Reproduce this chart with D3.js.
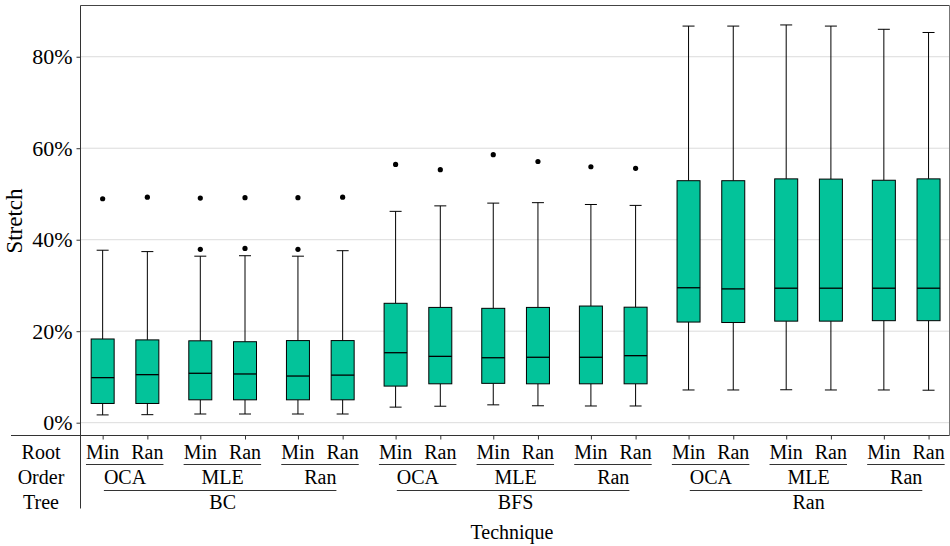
<!DOCTYPE html>
<html><head><meta charset="utf-8">
<script src="https://cdn.jsdelivr.net/npm/d3@7/dist/d3.min.js"></script>
<style>
body{margin:0;background:#fff;}
svg text{font-family:"Liberation Serif","DejaVu Serif",serif !important;fill:#000;}
</style></head>
<body><svg id="c" width="950" height="546" style="font-family:'Liberation Serif',serif"></svg>
<script>
// ---- data ----
const trees  = ["BC", "BFS", "Ran"];
const orders = ["OCA", "MLE", "Ran"];
const roots  = ["Min", "Ran"];
const whiskerLow  = [1.7, 1.75, 1.9, 1.9, 1.9, 1.9,   3.4, 3.6, 3.9, 3.7, 3.65, 3.65,   7.15, 7.15, 7.2, 7.15, 7.15, 7.1];
const q1          = [4.2, 4.2, 5.0, 5.0, 5.0, 5.0,     8.0, 8.5, 8.6, 8.5, 8.5, 8.5,      22.0, 21.9, 22.2, 22.2, 22.3, 22.3];
const median      = [9.85, 10.5, 10.8, 10.65, 10.2, 10.4, 15.3, 14.5, 14.2, 14.3, 14.3, 14.65, 29.5, 29.25, 29.4, 29.4, 29.4, 29.4];
const q3          = [18.3, 18.1, 17.9, 17.7, 17.95, 17.95, 26.1, 25.2, 25.0, 25.2, 25.5, 25.25, 52.9, 52.9, 53.3, 53.25, 53.0, 53.3];
const whiskerHigh = [37.7, 37.4, 36.4, 36.5, 36.4, 37.6, 46.2, 47.4, 48.0, 48.1, 47.7, 47.5, 86.7, 86.7, 86.95, 86.7, 86.0, 85.3];
const outliers    = [[48.95], [49.3], [49.1, 37.9], [49.2, 38.1], [49.2, 37.9], [49.3],
                     [56.45], [55.3], [58.6], [57.1], [55.95], [55.6],
                     [], [], [], [], [], []];
const yTicks = [0, 20, 40, 60, 80];
const rowLabels = ["Root", "Order", "Tree"];

// ---- build ----
const FONT = '"Liberation Serif", serif';
const boxes = [];
trees.forEach((t, ti) => orders.forEach((o, oi) => roots.forEach((r, ri) => {
  const i = ti * 6 + oi * 2 + ri;
  boxes.push({tree: t, order: o, root: r, group: t + "|" + o,
    lo: whiskerLow[i], q1: q1[i], med: median[i], q3: q3[i], hi: whiskerHigh[i], out: outliers[i]});
})));
const groups = [];
trees.forEach(t => orders.forEach(o => groups.push(t + "|" + o)));

const L = 80.5, R = 949.5, T = 5.5, B = 435.5;
const svg = d3.select("#c");
const y = d3.scaleLinear().domain([-2.8, 91.2]).range([B, T]);
const x0 = d3.scalePoint().domain(groups).range([125, 906.2]);
const x1 = d3.scalePoint().domain(roots).range([-22.35, 22.35]);
const bx = d => x0(d.group) + x1(d.root);
const boxW = 23, capW = 12;

// grid
svg.append("g").selectAll("line").data(yTicks).join("line")
  .attr("x1", L).attr("x2", R).attr("y1", d => y(d)).attr("y2", d => y(d))
  .attr("stroke", "#dcdcdc").attr("stroke-width", 1);

// y axis
const yAxis = d3.axisLeft(y).tickValues(yTicks).tickSize(4).tickPadding(4).tickFormat(d => d + "%");
const ga = svg.append("g").attr("transform", `translate(${L},0)`).call(yAxis).attr("font-family", FONT);
ga.select(".domain").remove();
ga.selectAll(".tick line").attr("stroke", "#333");
ga.selectAll(".tick text").style("font-size", "22px").style("font-family", FONT).attr("fill", "#000");

// x axis ticks
const xAxis = d3.axisBottom(d3.scaleLinear().domain([0, 950]).range([0, 950]))
  .tickValues(boxes.map(bx)).tickSize(4).tickFormat("");
const gx = svg.append("g").attr("transform", `translate(0,${B})`).call(xAxis);
gx.select(".domain").remove();
gx.selectAll(".tick line").attr("stroke", "#333");

// frame lines
svg.append("line").attr("x1", L).attr("x2", R).attr("y1", T).attr("y2", T).attr("stroke", "#444");
svg.append("line").attr("x1", R).attr("x2", R).attr("y1", T).attr("y2", B).attr("stroke", "#777");
svg.append("line").attr("x1", L).attr("x2", L).attr("y1", T).attr("y2", 508.5).attr("stroke", "#333");
svg.append("line").attr("x1", 11).attr("x2", R).attr("y1", B).attr("y2", B).attr("stroke", "#333");

// boxes
const g = svg.append("g").selectAll("g").data(boxes).join("g");
g.append("line").attr("x1", bx).attr("x2", bx).attr("y1", d => y(d.lo)).attr("y2", d => y(d.q1)).attr("stroke", "#000");
g.append("line").attr("x1", bx).attr("x2", bx).attr("y1", d => y(d.q3)).attr("y2", d => y(d.hi)).attr("stroke", "#000");
g.append("line").attr("x1", d => bx(d) - capW / 2).attr("x2", d => bx(d) + capW / 2)
  .attr("y1", d => y(d.lo)).attr("y2", d => y(d.lo)).attr("stroke", "#000");
g.append("line").attr("x1", d => bx(d) - capW / 2).attr("x2", d => bx(d) + capW / 2)
  .attr("y1", d => y(d.hi)).attr("y2", d => y(d.hi)).attr("stroke", "#000");
g.append("rect").attr("x", d => bx(d) - boxW / 2).attr("width", boxW)
  .attr("y", d => y(d.q3)).attr("height", d => y(d.q1) - y(d.q3))
  .attr("fill", "#03C39A").attr("stroke", "#000").attr("stroke-width", 1);
g.append("line").attr("x1", d => bx(d) - boxW / 2).attr("x2", d => bx(d) + boxW / 2)
  .attr("y1", d => y(d.med)).attr("y2", d => y(d.med)).attr("stroke", "#000").attr("stroke-width", 1.3);
g.selectAll("circle").data(d => d.out.map(v => ({v, x: bx(d)}))).join("circle")
  .attr("cx", d => d.x).attr("cy", d => y(d.v)).attr("r", 2.6).attr("fill", "#000");

// x labels
const fs = "20px";
const rowY = [459.3, 484, 508.5];
const lineY = [464.5, 490.5];
const txt = sel => sel.style("font-family", FONT).style("font-size", fs).attr("text-anchor", "middle");
// row 1: roots
const r1 = svg.append("g").selectAll("text").data(boxes).join("text")
  .attr("x", bx).attr("y", rowY[0]).call(txt).text(d => d.root);
groups.forEach(gr => {
  const nodes = r1.filter(d => d.group === gr).nodes();
  const b0 = nodes[0].getBBox(), b1 = nodes[nodes.length - 1].getBBox();
  svg.append("line").attr("x1", b0.x).attr("x2", b1.x + b1.width)
    .attr("y1", lineY[0]).attr("y2", lineY[0]).attr("stroke", "#333");
});
// row 2: orders
const gInfo = groups.map(gr => ({group: gr, tree: gr.split("|")[0], order: gr.split("|")[1]}));
const r2 = svg.append("g").selectAll("text").data(gInfo).join("text")
  .attr("x", d => x0(d.group)).attr("y", rowY[1]).call(txt).text(d => d.order);
trees.forEach(t => {
  const nodes = r2.filter(d => d.tree === t).nodes();
  const b0 = nodes[0].getBBox(), b1 = nodes[nodes.length - 1].getBBox();
  svg.append("line").attr("x1", b0.x).attr("x2", b1.x + b1.width)
    .attr("y1", lineY[1]).attr("y2", lineY[1]).attr("stroke", "#333");
});
// row 3: trees
svg.append("g").selectAll("text").data(trees).join("text")
  .attr("x", t => (x0(t + "|" + orders[0]) + x0(t + "|" + orders[orders.length - 1])) / 2)
  .attr("y", rowY[2]).call(txt).text(t => t);
// row labels
svg.append("g").selectAll("text").data(rowLabels).join("text")
  .attr("x", 41).attr("y", (d, i) => rowY[i]).call(txt).text(d => d);

// axis titles
svg.append("text").attr("x", (L + R) / 2 - 3).attr("y", 538.5).call(txt).text("Technique");
svg.append("text").attr("transform", "translate(22,221) rotate(-90)").call(txt).style("font-size", "23px").text("Stretch");
</script></body></html>
